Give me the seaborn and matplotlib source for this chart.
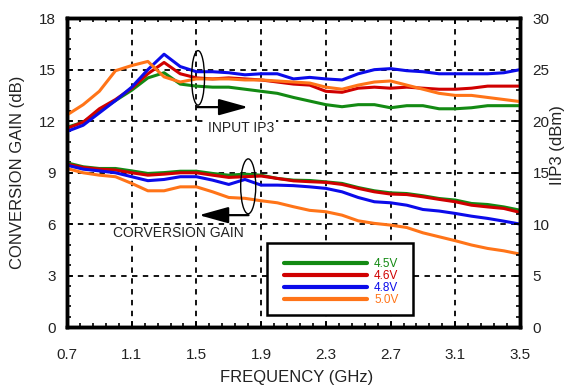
"""
Conversion gain and input IP3 versus frequency for four supply voltages.
"""

import numpy as np
import pandas as pd
import matplotlib
matplotlib.use("Agg")
import matplotlib.pyplot as plt
from matplotlib.patches import Ellipse, Rectangle
from matplotlib.lines import Line2D
from matplotlib.ticker import FixedLocator, MultipleLocator
import seaborn as sns

# frequency points (GHz)
freq = [0.7, 0.8, 0.9, 1.0, 1.1, 1.2, 1.3, 1.4, 1.5, 1.6, 1.7, 1.8, 1.9, 2.0, 2.1,
        2.2, 2.3, 2.4, 2.5, 2.6, 2.7, 2.8, 2.9, 3.0, 3.1, 3.2, 3.3, 3.4, 3.5]

supplies = ["4.5V", "4.6V", "4.8V", "5.0V"]
colors = ["#138a13", "#d00000", "#0b0bea", "#ff7418"]

# conversion gain (dB), left axis
gain_45 = [9.57, 9.34, 9.24, 9.24, 9.10, 8.95, 9.00, 9.08, 9.08, 8.95, 8.85, 8.91, 8.85, 8.66, 8.56,
           8.54, 8.46, 8.37, 8.13, 7.94, 7.82, 7.78, 7.65, 7.49, 7.40, 7.20, 7.14, 7.00, 6.81]
gain_46 = [9.49, 9.30, 9.20, 9.15, 8.99, 8.85, 8.91, 8.99, 8.99, 8.85, 8.72, 8.76, 8.80, 8.66, 8.52,
           8.47, 8.43, 8.31, 8.08, 7.88, 7.75, 7.72, 7.59, 7.44, 7.30, 7.10, 7.00, 6.91, 6.68]
gain_48 = [9.43, 9.20, 9.10, 8.99, 8.76, 8.53, 8.60, 8.76, 8.76, 8.56, 8.31, 8.60, 8.27, 8.27, 8.24,
           8.17, 8.08, 7.88, 7.55, 7.30, 7.24, 7.10, 6.85, 6.76, 6.62, 6.46, 6.33, 6.17, 6.00]
gain_50 = [9.24, 8.99, 8.85, 8.76, 8.37, 7.94, 7.94, 8.17, 8.17, 7.88, 7.55, 7.50, 7.36, 7.24, 7.01,
           6.80, 6.72, 6.52, 6.19, 6.04, 5.94, 5.80, 5.49, 5.26, 5.03, 4.78, 4.58, 4.44, 4.25]

# input IP3 (dBm), right axis
iip3_45 = [19.4, 19.9, 21.0, 22.0, 23.0, 24.2, 24.7, 23.6, 23.4, 23.3, 23.3, 23.1, 22.9, 22.7, 22.3,
           21.95, 21.6, 21.4, 21.6, 21.6, 21.3, 21.5, 21.5, 21.2, 21.2, 21.3, 21.5, 21.5, 21.5]
iip3_46 = [19.3, 19.9, 21.2, 22.1, 23.2, 24.6, 25.7, 24.6, 24.2, 24.1, 24.2, 24.1, 24.0, 23.8, 23.6,
           23.5, 22.9, 22.8, 23.2, 23.3, 23.2, 23.3, 23.2, 23.1, 23.1, 23.2, 23.4, 23.4, 23.4]
iip3_48 = [19.0, 19.6, 20.8, 22.0, 23.3, 25.0, 26.5, 25.3, 24.8, 24.8, 24.7, 24.5, 24.6, 24.6, 24.1,
           24.25, 24.1, 24.0, 24.6, 25.0, 25.1, 24.9, 24.8, 24.6, 24.6, 24.6, 24.6, 24.7, 25.0]
iip3_50 = [20.6, 21.6, 22.9, 24.9, 25.4, 25.8, 24.3, 23.8, 24.1, 24.1, 24.1, 24.0, 24.0, 23.9, 23.8,
           23.7, 23.3, 23.1, 23.5, 23.8, 23.9, 23.5, 23.1, 22.7, 22.5, 22.5, 22.3, 22.1, 21.9]

xticks = [0.7, 1.1, 1.5, 1.9, 2.3, 2.7, 3.1, 3.5]
xtick_labels = ["0.7", "1.1", "1.5", "1.9", "2.3", "2.7", "3.1", "3.5"]
gain_ticks = [0, 3, 6, 9, 12, 15, 18]
iip3_ticks = [0, 5, 10, 15, 20, 25, 30]


def to_long(series):
    """Stack the per-supply lists into one long table for seaborn."""
    frames = []
    for label, values in zip(supplies, series):
        frames.append(pd.DataFrame({"freq": freq, "value": values, "supply": label}))
    return pd.concat(frames, ignore_index=True)


gain_df = to_long([gain_45, gain_46, gain_48, gain_50])
iip3_df = to_long([iip3_45, iip3_46, iip3_48, iip3_50])

sns.set_theme(style="white")
plt.rcParams["font.family"] = ["Liberation Sans", "DejaVu Sans"]
text_color = "#222222"

fig = plt.figure(figsize=(5.72, 3.87), dpi=100)
ax = fig.add_axes([0.1171, 0.155, 0.792, 0.798])
ax2 = ax.twinx()

palette = dict(zip(supplies, colors))
sns.lineplot(data=gain_df, x="freq", y="value", hue="supply", hue_order=supplies,
             palette=palette, linewidth=2.2, ax=ax, legend=False)
sns.lineplot(data=iip3_df, x="freq", y="value", hue="supply", hue_order=supplies,
             palette=palette, linewidth=2.2, ax=ax2, legend=False)

ax.set_xlim(0.7, 3.5)
ax.set_ylim(0, 18)
ax2.set_ylim(0, 30)

ax.set_xticks(xticks)
ax.set_xticklabels(xtick_labels)
ax.set_yticks(gain_ticks)
ax2.set_yticks(iip3_ticks)
ax.xaxis.set_minor_locator(FixedLocator(np.arange(0.7, 3.5, 0.08)))
ax.yaxis.set_minor_locator(MultipleLocator(0.6))
ax2.yaxis.set_minor_locator(MultipleLocator(1))

ax.grid(True, which="major", color="black", linestyle=(0, (3, 3)), linewidth=1.3)

ax.tick_params(axis="x", which="both", direction="in", top=True, bottom=True,
               labelsize=11, labelcolor=text_color, pad=15, color="black")
ax.tick_params(axis="y", which="both", direction="in", left=True, right=False,
               labelsize=11, labelcolor=text_color, pad=8, color="black")
ax2.tick_params(axis="y", which="both", direction="in", right=True, left=False,
                labelsize=11, labelcolor=text_color, pad=9, color="black")
for a in (ax, ax2):
    a.tick_params(which="major", length=4, width=1.3)
    a.tick_params(which="minor", length=3, width=1.2)
    for spine in a.spines.values():
        spine.set_linewidth(2.5)
        spine.set_color("black")

ax.set_xlabel("FREQUENCY (GHz)", fontsize=12, color=text_color)
ax.set_ylabel("CONVERSION GAIN (dB)", fontsize=12, color=text_color)
ax2.set_ylabel("IIP3 (dBm)", fontsize=12, color=text_color)
ax.xaxis.set_label_coords(0.508, -0.14)
ax.yaxis.set_label_coords(-0.093, 0.5)
ax2.yaxis.set_label_coords(1.066, 0.589)

label_box = dict(facecolor="white", edgecolor="none", pad=1.0)

# annotation: input IP3 group
ax2.add_patch(Ellipse((1.51, 24.2), 0.08, 5.3, fill=False, edgecolor="black", lw=1.0, zorder=5))
ax2.annotate("", xy=(1.82, 21.36), xytext=(1.505, 21.36),
             arrowprops=dict(arrowstyle="-|>,head_length=1.8,head_width=0.5",
                             color="black", lw=1.6, mutation_scale=10, shrinkA=0, shrinkB=0))
ax2.text(1.571, 19.3, "INPUT IP3", ha="left", va="center", fontsize=10, color=text_color,
         bbox=label_box)

# annotation: conversion gain group
ax.add_patch(Ellipse((1.82, 8.2), 0.093, 3.2, fill=False, edgecolor="black", lw=1.0, zorder=5))
ax.annotate("", xy=(1.516, 6.52), xytext=(1.822, 6.52),
            arrowprops=dict(arrowstyle="-|>,head_length=1.8,head_width=0.5",
                            color="black", lw=1.6, mutation_scale=10, shrinkA=0, shrinkB=0))
ax.text(1.386, 5.47, "CORVERSION GAIN", ha="center", va="center", fontsize=10, color=text_color,
        bbox=label_box)

# legend box
ax.add_patch(Rectangle((0.4415, 0.039), 0.3225, 0.233, transform=ax.transAxes,
                       facecolor="white", edgecolor="black", lw=1.8, zorder=4))
handles = [Line2D([], [], color=c, lw=3) for c in colors]
leg = ax.legend(handles, supplies, loc="center", bbox_to_anchor=(0.606, 0.145),
                frameon=False, fontsize=8.5, handlelength=7.0, handletextpad=0.6,
                labelspacing=0.0, labelcolor="linecolor", borderpad=0)
leg.set_zorder(6)

fig.savefig("out.png", dpi=100)
